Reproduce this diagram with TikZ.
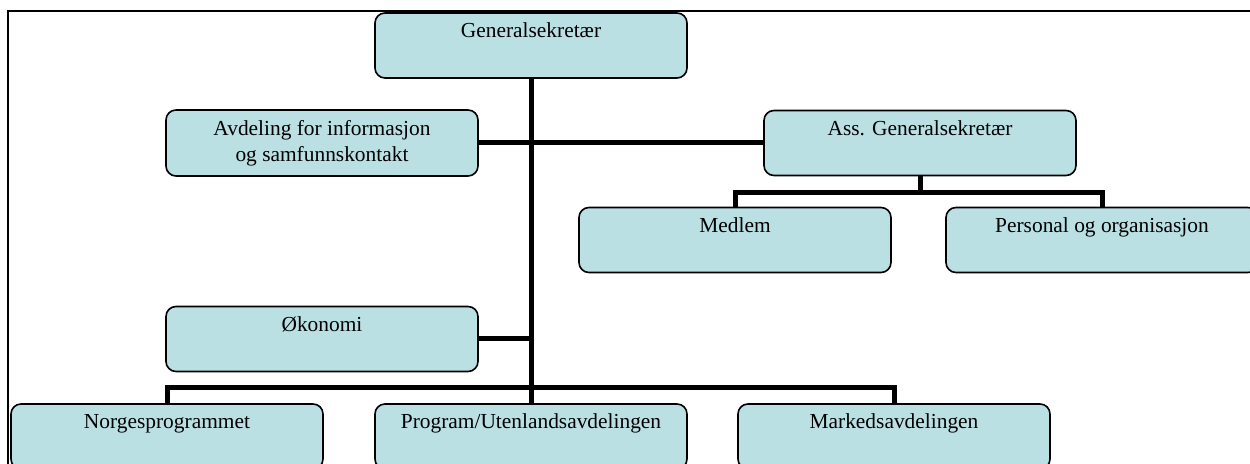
\documentclass[tikz,border=0pt]{standalone}
\usepackage{fontspec}
\setmainfont{Liberation Serif}
\usetikzlibrary{calc}
\definecolor{boxfill}{RGB}{186,224,228}
\tikzset{u/.style={draw=black,fill=boxfill,rounded corners=5pt,line width=0.8pt,minimum width=156pt,inner ysep=3pt,text height=9.3pt,text depth=17.2pt},
 u2/.style={draw=black,fill=boxfill,rounded corners=5pt,line width=0.8pt,minimum width=156pt,minimum height=33pt,align=center},
 link/.style={line width=2.5pt},frame/.style={line width=1pt}}
\begin{document}
\begin{tikzpicture}[x=0.5pt,y=-0.5pt,font=\fontsize{10.7}{13}\selectfont]
\useasboundingbox (0,0) rectangle (1250,464);
\draw[frame] (1250,11) -- (8,11) -- (8,464);
% top level
\node[u](gen) at (531,45.5){Generalsekret\ae r};
\node[u2](info) at (322,143){Avdeling for informasjon\\og samfunnskontakt};
\node[u](ass) at (920,143){Ass. Generalsekret\ae r};
\node[u](medlem) at (735,240){Medlem};\node[u](pers) at (1102,240){Personal og organisasjon};
\node[u](oko) at (322,339){\O konomi};
% bottom row
\node[u](norge) at (167,436.5){Norgesprogrammet};
\node[u](prog) at (531,436.5){Program/Utenlandsavdelingen};
\node[u](marked) at (894,436.5){Markedsavdelingen};
\coordinate(abus) at (920,193);\coordinate(mbus) at (531,388);
\draw[link](gen.south)--(prog.north);\draw[link](info.east)--(ass.west);
\draw[link](oko.east)--(oko.east-|gen.south);
\draw[link](ass.south)--(abus);\draw[link](medlem.north)|-(abus)-|(pers.north);
\draw[link](norge.north)|-(mbus)-|(marked.north);
\end{tikzpicture}
\end{document}
